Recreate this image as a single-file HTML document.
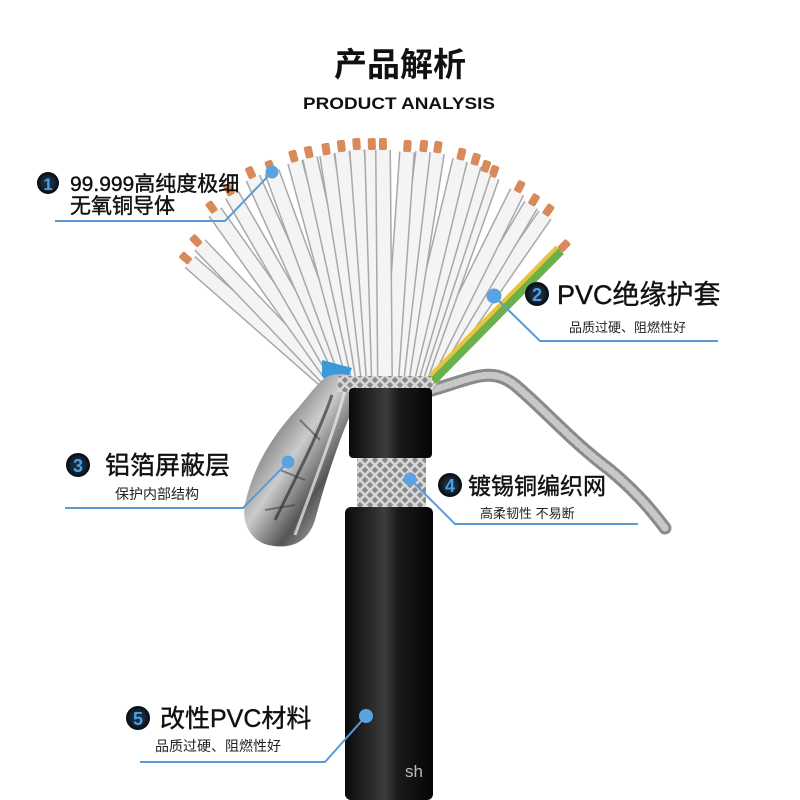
<!DOCTYPE html>
<html><head><meta charset="utf-8"><style>
html,body{margin:0;padding:0;background:#fff;}
svg{display:block;font-family:"Liberation Sans","Noto Sans CJK SC",sans-serif;}
.g{stroke:#a8a8a8;stroke-width:16;}
.w{stroke:#f4f4f4;stroke-width:13;marker-end:url(#cu);}
</style></head><body>
<svg width="800" height="800" viewBox="0 0 800 800" xmlns="http://www.w3.org/2000/svg">
<defs>
<marker id="cu" markerUnits="userSpaceOnUse" markerWidth="20" markerHeight="14" refX="0" refY="5" orient="auto">
<rect x="0" y="1" width="12" height="8" rx="2" fill="#d98a5a"/>
</marker>
<linearGradient id="blk" x1="0" x2="1" y1="0" y2="0">
<stop offset="0" stop-color="#0a0a0a"/><stop offset="0.3" stop-color="#2a2a2a"/><stop offset="0.45" stop-color="#3d3d3d"/><stop offset="0.6" stop-color="#1a1a1a"/><stop offset="1" stop-color="#050505"/>
</linearGradient>
<linearGradient id="foil" x1="0" x2="1" y1="0" y2="1">
<stop offset="0" stop-color="#e5e5e5"/><stop offset="0.25" stop-color="#777"/><stop offset="0.45" stop-color="#ccc"/><stop offset="0.65" stop-color="#555"/><stop offset="0.85" stop-color="#bbb"/><stop offset="1" stop-color="#888"/>
</linearGradient>
<pattern id="braid" width="10" height="10" patternUnits="userSpaceOnUse">
<rect width="10" height="10" fill="#8a8a8a"/>
<path d="M0 0L10 10M10 0L0 10" stroke="#d8d8d8" stroke-width="2.5"/>
</pattern>
<radialGradient id="bn"><stop offset="0.5" stop-color="#1a2a3a"/><stop offset="1" stop-color="#050a10"/></radialGradient>
<g id="wires">
<line id="w1" x1="330" y1="385" x2="190" y2="262"/>
<line id="w2" x1="334" y1="385" x2="200" y2="245"/>
<line id="w3" x1="338" y1="385" x2="215" y2="212"/>
<line id="w4" x1="342" y1="385" x2="232" y2="195"/>
<line id="w5" x1="346" y1="385" x2="253" y2="178"/>
<line id="w6" x1="350" y1="385" x2="272" y2="172"/>
<line id="w7" x1="355" y1="385" x2="295" y2="162"/>
<line id="w8" x1="360" y1="385" x2="310" y2="158"/>
<line id="w9" x1="364" y1="385" x2="327" y2="155"/>
<line id="w10" x1="369" y1="385" x2="342" y2="152"/>
<line id="w11" x1="374" y1="385" x2="357" y2="150"/>
<line id="w12" x1="379" y1="385" x2="372" y2="150"/>
<line id="w13" x1="385" y1="385" x2="383" y2="150"/>
<line id="w14" x1="391" y1="385" x2="407" y2="152"/>
<line id="w15" x1="396" y1="385" x2="423" y2="152"/>
<line id="w16" x1="401" y1="385" x2="437" y2="153"/>
<line id="w17" x1="406" y1="385" x2="460" y2="160"/>
<line id="w18" x1="410" y1="385" x2="474" y2="165"/>
<line id="w19" x1="414" y1="385" x2="484" y2="172"/>
<line id="w20" x1="418" y1="385" x2="492" y2="177"/>
<line id="w21" x1="421" y1="385" x2="517" y2="192"/>
<line id="w22" x1="424" y1="385" x2="531" y2="205"/>
<line id="w23" x1="427" y1="385" x2="545" y2="215"/>
</g>
</defs>

<text x="400" y="76" text-anchor="middle" font-size="33" font-weight="bold" fill="#111">产品解析</text>
<text x="303" y="109" font-size="17" font-weight="bold" fill="#111" textLength="192" lengthAdjust="spacingAndGlyphs">PRODUCT ANALYSIS</text>

<path d="M425 392 C470 380 490 365 515 385 C545 410 570 440 610 470 C640 495 655 515 665 528" stroke="#8a8a8a" stroke-width="13" fill="none" stroke-linecap="round"/>
<path d="M425 392 C470 380 490 365 515 385 C545 410 570 440 610 470 C640 495 655 515 665 528" stroke="#c8c8c8" stroke-width="7" fill="none" stroke-linecap="round" stroke-dasharray="3 3"/>

<g fill="none">
<use href="#w1" class="g"/><use href="#w1" class="w"/>
<use href="#w2" class="g"/><use href="#w2" class="w"/>
<use href="#w3" class="g"/><use href="#w3" class="w"/>
<use href="#w4" class="g"/><use href="#w4" class="w"/>
<use href="#w5" class="g"/><use href="#w5" class="w"/>
<use href="#w6" class="g"/><use href="#w6" class="w"/>
<use href="#w7" class="g"/><use href="#w7" class="w"/>
<use href="#w8" class="g"/><use href="#w8" class="w"/>
<use href="#w9" class="g"/><use href="#w9" class="w"/>
<use href="#w10" class="g"/><use href="#w10" class="w"/>
<use href="#w11" class="g"/><use href="#w11" class="w"/>
<use href="#w12" class="g"/><use href="#w12" class="w"/>
<use href="#w23" class="g"/><use href="#w23" class="w"/>
<use href="#w22" class="g"/><use href="#w22" class="w"/>
<use href="#w21" class="g"/><use href="#w21" class="w"/>
<use href="#w20" class="g"/><use href="#w20" class="w"/>
<use href="#w19" class="g"/><use href="#w19" class="w"/>
<use href="#w18" class="g"/><use href="#w18" class="w"/>
<use href="#w17" class="g"/><use href="#w17" class="w"/>
<use href="#w16" class="g"/><use href="#w16" class="w"/>
<use href="#w15" class="g"/><use href="#w15" class="w"/>
<use href="#w14" class="g"/><use href="#w14" class="w"/>
<use href="#w13" class="g"/><use href="#w13" class="w"/>
<line x1="432" y1="380" x2="560" y2="250" stroke="#6ab04c" stroke-width="11" marker-end="url(#cu)"/>
<line x1="429" y1="377" x2="557" y2="247" stroke="#e8c43a" stroke-width="4"/>
</g>

<path d="M322 360 L352 368 L342 392 L322 376 Z" fill="#3a9ad9"/>
<path d="M328 376 C350 370 368 380 356 402 C342 432 328 472 315 520 C308 542 292 550 268 545 C250 540 240 522 246 500 C254 466 272 436 298 408 C310 394 318 382 328 376 Z" fill="url(#foil)"/>
<path d="M332 395 C320 430 300 470 275 520" stroke="#222" stroke-width="3" fill="none" opacity="0.6"/>
<path d="M345 390 C335 430 315 480 295 535" stroke="#eee" stroke-width="3" fill="none" opacity="0.7"/>
<path d="M300 420 L320 440 M280 470 L305 480 M265 510 L295 505" stroke="#333" stroke-width="2" opacity="0.5"/>

<rect x="338" y="376" width="94" height="16" fill="url(#braid)"/>
<rect x="357" y="455" width="69" height="56" fill="url(#braid)"/>
<rect x="349" y="388" width="83" height="70" rx="4" fill="url(#blk)"/>
<rect x="345" y="507" width="88" height="293" rx="6" fill="url(#blk)"/>
<text x="405" y="777" font-size="17" fill="#bbb">sh</text>

<g stroke="#5b9bd5" stroke-width="2" fill="none">
<polyline points="55,221 225,221 272,172"/>
<polyline points="494,296 540,341 718,341"/>
<polyline points="65,508 243,508 288,462"/>
<polyline points="410,479 455,524 638,524"/>
<polyline points="140,762 325,762 366,716"/>
</g>
<g fill="#5ba3e0">
<circle cx="272" cy="172" r="6.5"/><circle cx="494" cy="296" r="7.5"/><circle cx="288" cy="462" r="6.5"/><circle cx="410" cy="479" r="6.5"/><circle cx="366" cy="716" r="7"/>
</g>

<g font-weight="bold" text-anchor="middle" fill="#4aa0e8">
<circle cx="48" cy="183" r="11" fill="url(#bn)"/><text x="48" y="190" font-size="17">1</text>
<circle cx="537" cy="294" r="12" fill="url(#bn)"/><text x="537" y="301" font-size="18">2</text>
<circle cx="78" cy="465" r="12" fill="url(#bn)"/><text x="78" y="472" font-size="18">3</text>
<circle cx="450" cy="485" r="12" fill="url(#bn)"/><text x="450" y="492" font-size="18">4</text>
<circle cx="138" cy="718" r="12" fill="url(#bn)"/><text x="138" y="725" font-size="18">5</text>
</g>

<g fill="#111" stroke="#111" stroke-width="0.4">
<text x="70" y="191" font-size="21">99.999高纯度极细</text>
<text x="70" y="213" font-size="21">无氧铜导体</text>
<text x="557" y="304" font-size="27">PVC绝缘护套</text>
<text x="105" y="474" font-size="25">铝箔屏蔽层</text>
<text x="468" y="494" font-size="23">镀锡铜编织网</text>
<text x="160" y="727" font-size="25">改性PVC材料</text>
</g>
<g fill="#222">
<text x="569" y="332" font-size="13">品质过硬、阻燃性好</text>
<text x="115" y="499" font-size="14">保护内部结构</text>
<text x="480" y="518" font-size="13">高柔韧性 不易断</text>
<text x="155" y="751" font-size="14">品质过硬、阻燃性好</text>
</g>
</svg>
</body></html>
